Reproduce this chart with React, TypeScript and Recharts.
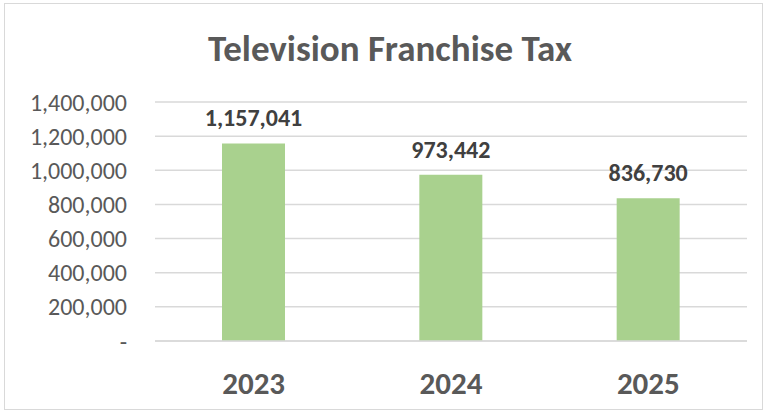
import React from "react";
import { BarChart, Bar, XAxis, YAxis, CartesianGrid, LabelList } from "recharts";

const categories = ["2023", "2024", "2025"];
const values = [1157041, 973442, 836730];
const yTicks = [0, 200000, 400000, 600000, 800000, 1000000, 1200000, 1400000];
const title = "Television Franchise Tax";

const data = categories.map((c, i) => ({ year: c, value: values[i] }));

const FONT = "Carlito, Calibri, Lato, 'Open Sans', sans-serif";
const fmt = (v: number) => (v === 0 ? "-" : v.toLocaleString("en-US"));

export default function App() {
  return (
    <div style={{ position: "fixed", left: 0, top: 0, width: 769, height: 415, background: "#fff", fontFamily: FONT }}>
      <div
        style={{
          position: "absolute",
          left: 4,
          top: 3,
          width: 759,
          height: 407,
          border: "1px solid #D9D9D9",
          boxSizing: "border-box",
        }}
      />
      <div
        style={{
          position: "absolute",
          left: 0,
          width: 769,
          top: 29,
          textAlign: "center",
          paddingLeft: 11,
          boxSizing: "border-box",
          fontSize: 37,
          fontWeight: 700,
          color: "#595959",
          lineHeight: "40px",
          whiteSpace: "nowrap",
        }}
      >
        {title}
      </div>
      <div style={{ position: "absolute", left: 0, top: 0 }}>
        <BarChart width={769} height={415} data={data} margin={{ top: 102, right: 22, left: 0, bottom: 0 }}>
          <CartesianGrid vertical={false} stroke="#D9D9D9" strokeWidth={1.5} />
          <XAxis
            dataKey="year"
            height={74}
            axisLine={{ stroke: "#D9D9D9", strokeWidth: 1.5 }}
            tickLine={false}
            tickSize={0}
            tickMargin={31}
            tick={{ fill: "#595959", fontSize: 31, fontWeight: 700, fontFamily: FONT }}
          />
          <YAxis
            width={155}
            domain={[0, 1400000]}
            ticks={yTicks}
            interval={0}
            axisLine={false}
            tickLine={false}
            tickSize={0}
            tickMargin={28}
            tickFormatter={fmt}
            tick={{ fill: "#595959", fontSize: 24, fontFamily: FONT }}
          />
          <Bar dataKey="value" fill="#A9D18E" barSize={63} isAnimationActive={false}>
            <LabelList
              dataKey="value"
              position="top"
              offset={17}
              formatter={(v: number) => v.toLocaleString("en-US")}
              style={{ fill: "#404040", fontSize: 24, fontWeight: 700, fontFamily: FONT }}
            />
          </Bar>
        </BarChart>
      </div>
    </div>
  );
}
